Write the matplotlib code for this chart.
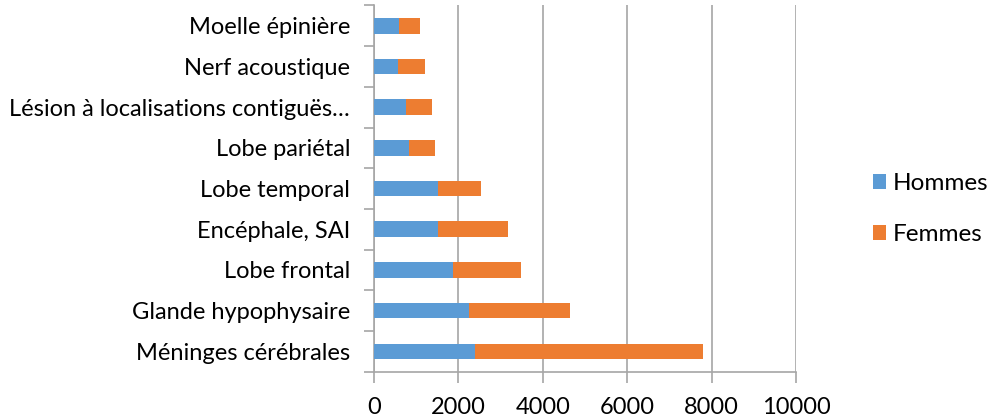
import matplotlib
matplotlib.use("Agg")
import matplotlib.pyplot as plt
from matplotlib.ticker import FixedLocator

categories = ["Méninges cérébrales", "Glande hypophysaire", "Lobe frontal",
              "Encéphale, SAI", "Lobe temporal", "Lobe pariétal",
              "Lésion à localisations contiguës…", "Nerf acoustique", "Moelle épinière"]
hommes = [2404, 2262, 1884, 1529, 1529, 843, 764, 582, 606]
femmes = [5396, 2376, 1594, 1641, 1017, 608, 608, 640, 490]
xticks = [0, 2000, 4000, 6000, 8000, 10000]

plt.rcParams['font.family'] = ['Lato', 'DejaVu Sans']

fig = plt.figure(figsize=(9.93, 4.2), dpi=100)
ax = fig.add_axes([0.3763, 0.115, 0.4256, 0.872])

y = list(range(len(categories)))
ax.barh(y, hommes, height=0.385, color="#5B9BD5", label="Hommes", zorder=3)
ax.barh(y, femmes, left=hommes, height=0.385, color="#ED7D31", label="Femmes", zorder=3)

ax.set_xlim(0, 10000)
ax.set_ylim(-0.5, len(categories) - 0.5)
ax.set_xticks(xticks)
ax.set_xticklabels([str(t) for t in xticks], fontsize=17)
ax.set_yticks(y)
ax.set_yticklabels(categories, fontsize=17)
ax.yaxis.set_minor_locator(FixedLocator([i - 0.5 for i in range(len(categories) + 1)]))
ax.tick_params(axis='y', which='major', length=0, pad=17)
ax.tick_params(axis='y', which='minor', length=7, width=1.2, color="#A6A6A6")
ax.tick_params(axis='x', which='major', length=8, width=1.2, color="#A6A6A6", pad=10)

ax.grid(axis='x', color="#A6A6A6", linewidth=1.2, zorder=0)
for s in ['top', 'right']:
    ax.spines[s].set_visible(False)
for s in ['left', 'bottom']:
    ax.spines[s].set_color("#A6A6A6")
    ax.spines[s].set_linewidth(1.2)

fig.legend(loc='center left', bbox_to_anchor=(0.879, 0.502), frameon=False, fontsize=17.5,
           borderpad=0, borderaxespad=0,
           handlelength=0.55, handleheight=0.55, handletextpad=0.25, labelspacing=1.25)

fig.savefig("out.png", dpi=100)
